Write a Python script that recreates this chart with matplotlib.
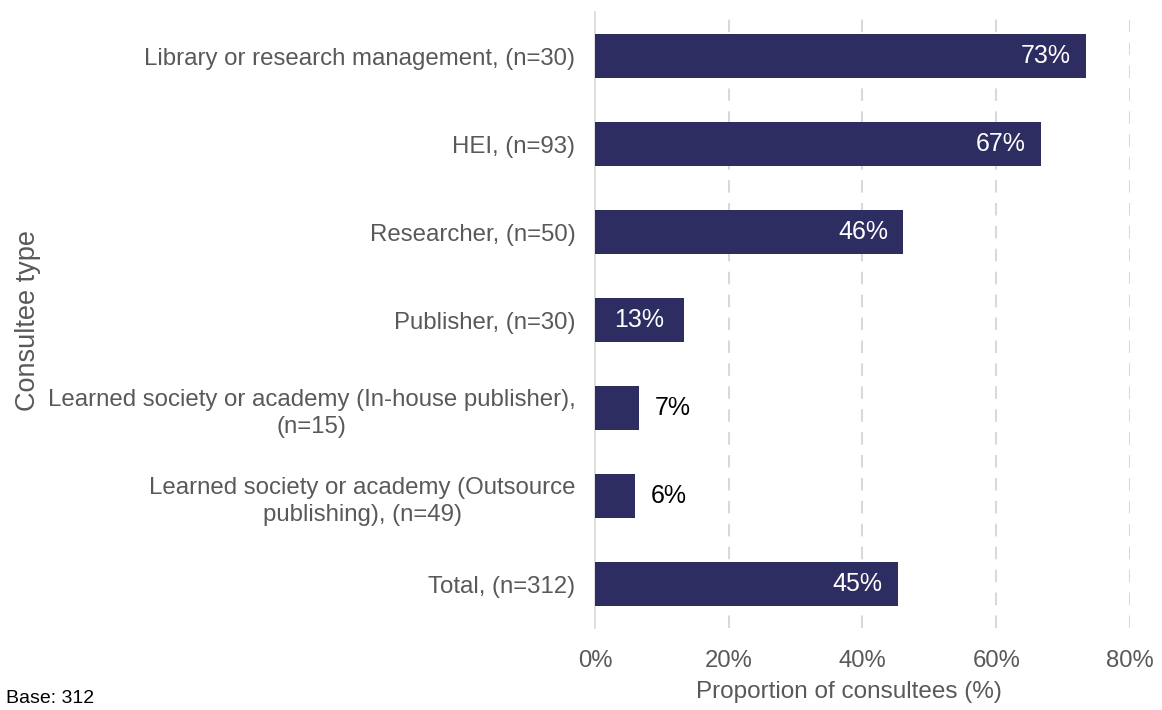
import matplotlib.pyplot as plt
from matplotlib.ticker import PercentFormatter

plt.rcParams["font.family"] = ["Liberation Sans", "DejaVu Sans"]

categories = ["Library or research management, (n=30)",
              "HEI, (n=93)",
              "Researcher, (n=50)",
              "Publisher, (n=30)",
              "Learned society or academy (In-house publisher),\n(n=15)",
              "Learned society or academy (Outsource\npublishing), (n=49)",
              "Total, (n=312)"]
values = [0.734, 0.667, 0.461, 0.133, 0.066, 0.060, 0.453]
value_labels = ["73%", "67%", "46%", "13%", "7%", "6%", "45%"]
x_ticks = [0, 0.2, 0.4, 0.6, 0.8]

bar_color = "#2e2d62"
grey = "#595959"

fig = plt.figure(figsize=(11.62, 7.10), dpi=100)
ax = fig.add_axes([0.512, 0.1155, 0.4605, 0.8675])

y = range(len(categories))
rects = ax.barh(y, values, height=0.5, color=bar_color, zorder=3)

ax.set_ylim(len(categories) - 0.5, -0.5)
ax.set_xlim(0, 0.8)
ax.set_xticks(x_ticks)
ax.xaxis.set_major_formatter(PercentFormatter(1.0, decimals=0))
ax.set_yticks(list(y))
ax.set_yticklabels(categories)
for t in ax.get_yticklabels():
    t.set_multialignment("center")
    t.set_linespacing(1.35)

ax.tick_params(axis="y", length=0, pad=14, labelsize=17.3, labelcolor=grey)
ax.tick_params(axis="x", length=0, pad=16, labelsize=17.2, labelcolor=grey)

for s in ["top", "right", "bottom"]:
    ax.spines[s].set_visible(False)
ax.spines["left"].set_color("#d9d9d9")
ax.spines["left"].set_linewidth(1.2)

ax.grid(axis="x", color="#d9d9d9", linestyle=(0, (6, 5)), linewidth=1.5, zorder=0)
ax.yaxis.grid(False)
ax.get_xgridlines()[0].set_visible(False)

# value labels
for rect, v, lab in zip(rects, values, value_labels):
    yc = rect.get_y() + rect.get_height() / 2
    if v < 0.1:
        ax.annotate(lab, (v, yc), xytext=(11, 0), textcoords="offset points",
                    ha="left", va="center", fontsize=18, color="black")
    elif v < 0.2:
        ax.text(v / 2, yc, lab, ha="center", va="center", fontsize=18, color="white")
    else:
        ax.annotate(lab, (v, yc), xytext=(-11, 0), textcoords="offset points",
                    ha="right", va="center", fontsize=18, color="white")

ax.set_xlabel("Proportion of consultees (%)", fontsize=17.5, color=grey)
ax.xaxis.set_label_coords(0.475, -0.086)
fig.text(0.024, 0.548, "Consultee type", rotation=90, ha="center", va="center",
         fontsize=19.5, color=grey)

fig.text(0.005, 0.004, "Base: 312", ha="left", va="bottom", fontsize=14, color="black")

plt.savefig("out.png", dpi=100)
